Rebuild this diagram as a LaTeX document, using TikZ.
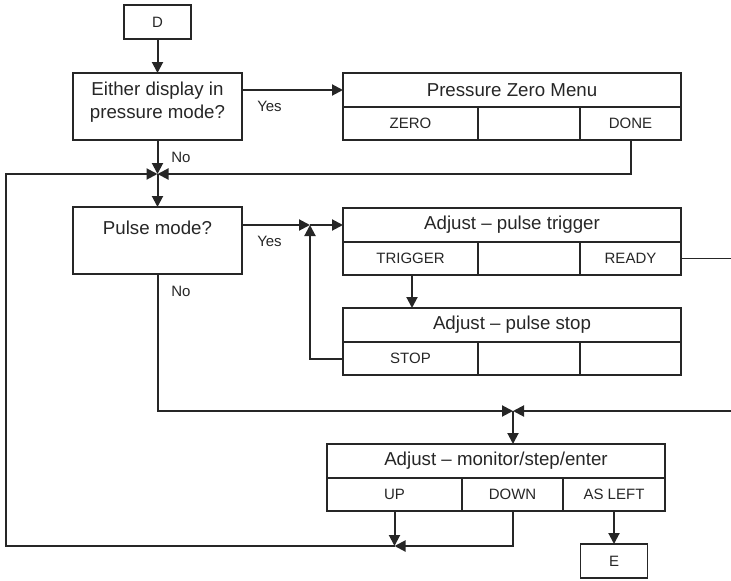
\documentclass[tikz,border=0pt]{standalone}
\usepackage{fontspec}
\setmainfont{Liberation Sans}
\usetikzlibrary{positioning,arrows.meta}
\usepackage{xcolor}
\definecolor{inkgray}{HTML}{262626}
\newcommand{\hdrfont}{\fontsize{18.7}{23}\selectfont}
\newcommand{\cellfont}{\fontsize{15}{18}\selectfont}

\begin{document}
\begin{tikzpicture}[
    x=1pt, y=-1pt, color=inkgray,
    box/.style={rectangle, draw, line width=1.4pt, outer sep=0pt,
                inner sep=0pt, align=center},
    qbox/.style={box, minimum width=169pt, minimum height=67pt, font=\hdrfont},
    term/.style={box, minimum width=67pt, minimum height=34pt, font=\cellfont},
    hdr/.style={box, minimum width=338pt, minimum height=34pt, font=\hdrfont},
    cell/.style={box, minimum width=#1, minimum height=33pt, font=\cellfont},
    lbl/.style={font=\cellfont, inner sep=0pt},
    arr/.style={-{Triangle[length=11pt,width=11pt]}, line width=2pt},
    wire/.style={line width=1.4pt}
]
\useasboundingbox (0,0) rectangle (731,581);

% Left: decisions
\node[term] (d) at (157.5,22) {D};
\node[qbox, below=34pt of d, text depth=12pt] (q1) {Either display in\\pressure mode?};
\node[qbox, below=67pt of q1, text depth=25pt] (pm) {Pulse mode?};

% Right: pressure zero menu
\node[hdr, anchor=north west] (pzm) at (343,73) {Pressure Zero Menu};
\node[cell=135pt, below right=0pt and 0pt of pzm.south west] (pzm1) {ZERO};
\node[cell=102pt, right=0pt of pzm1] (pzm2) {};
\node[cell=101pt, right=0pt of pzm2] (pzm3) {DONE};

% Right: pulse trigger / pulse stop
\node[hdr, anchor=north west] (pt) at (343,208) {Adjust – pulse trigger};
\node[cell=135pt, below right=0pt and 0pt of pt.south west] (pt1) {TRIGGER};
\node[cell=102pt, right=0pt of pt1] (pt2) {};
\node[cell=101pt, right=0pt of pt2] (pt3) {READY};

\node[hdr, anchor=north west] (ps) at (343,308) {Adjust – pulse stop};
\node[cell=135pt, below right=0pt and 0pt of ps.south west] (ps1) {STOP};
\node[cell=102pt, right=0pt of ps1] (ps2) {};
\node[cell=101pt, right=0pt of ps2] (ps3) {};

% Bottom: monitor menu
\node[hdr, anchor=north west] (mon) at (327,444) {Adjust – monitor/step/enter};
\node[cell=135pt, below right=0pt and 0pt of mon.south west] (mon1) {UP};
\node[cell=101pt, right=0pt of mon1] (mon2) {DOWN};
\node[cell=102pt, right=0pt of mon2] (mon3) {AS LEFT};
\node[term, below=33pt of mon3] (e) {E};

% Labels
\node[lbl] (yes1) at (269.5,106) {Yes};
\node[lbl] (no1) at (181,157) {No};
\node[lbl] (yes2) at (269.5,241) {Yes};
\node[lbl] (no2) at (181,291) {No};

% Junctions and free ends
\coordinate (j1) at (157.5,174);
\coordinate[left=33pt of pt.west] (j2);
\coordinate (j3) at (394.5,546);
\coordinate (j4) at (513,411);
\coordinate (lx) at (6,174);
\coordinate (rx) at (731,0);

% Connectors
\draw[arr] (d) -- (q1);
\draw[arr] (q1.east |- pzm.west) -- (pzm.west);
\draw[arr] (q1) -- (j1);
\draw[arr] (pzm3.south) |- (j1);
\draw[arr] (j3) -| (lx) -- (j1);
\draw[arr] (j1) -- (pm);

\draw[arr] (pm.east |- j2) -- (j2);
\draw[arr] (j2) -- (pt.west);
\draw[arr] (ps1.west) -| (j2);
\draw[arr] ([xshift=1.5pt]pt1.south) -- ([xshift=1.5pt]pt1.south |- ps.north);
\draw[wire] (pt3.east) -- (pt3.east -| rx);

\draw[arr] (pm) |- (j4);
\draw[arr] (j4 -| rx) -- (j4);
\draw[arr] (j4) -- (j4 |- mon.north);

\draw[arr] (mon1) -- (j3);
\draw[arr] (mon2.south) |- (j3);
\draw[arr] (mon3) -- (e);

\end{tikzpicture}
\end{document}
